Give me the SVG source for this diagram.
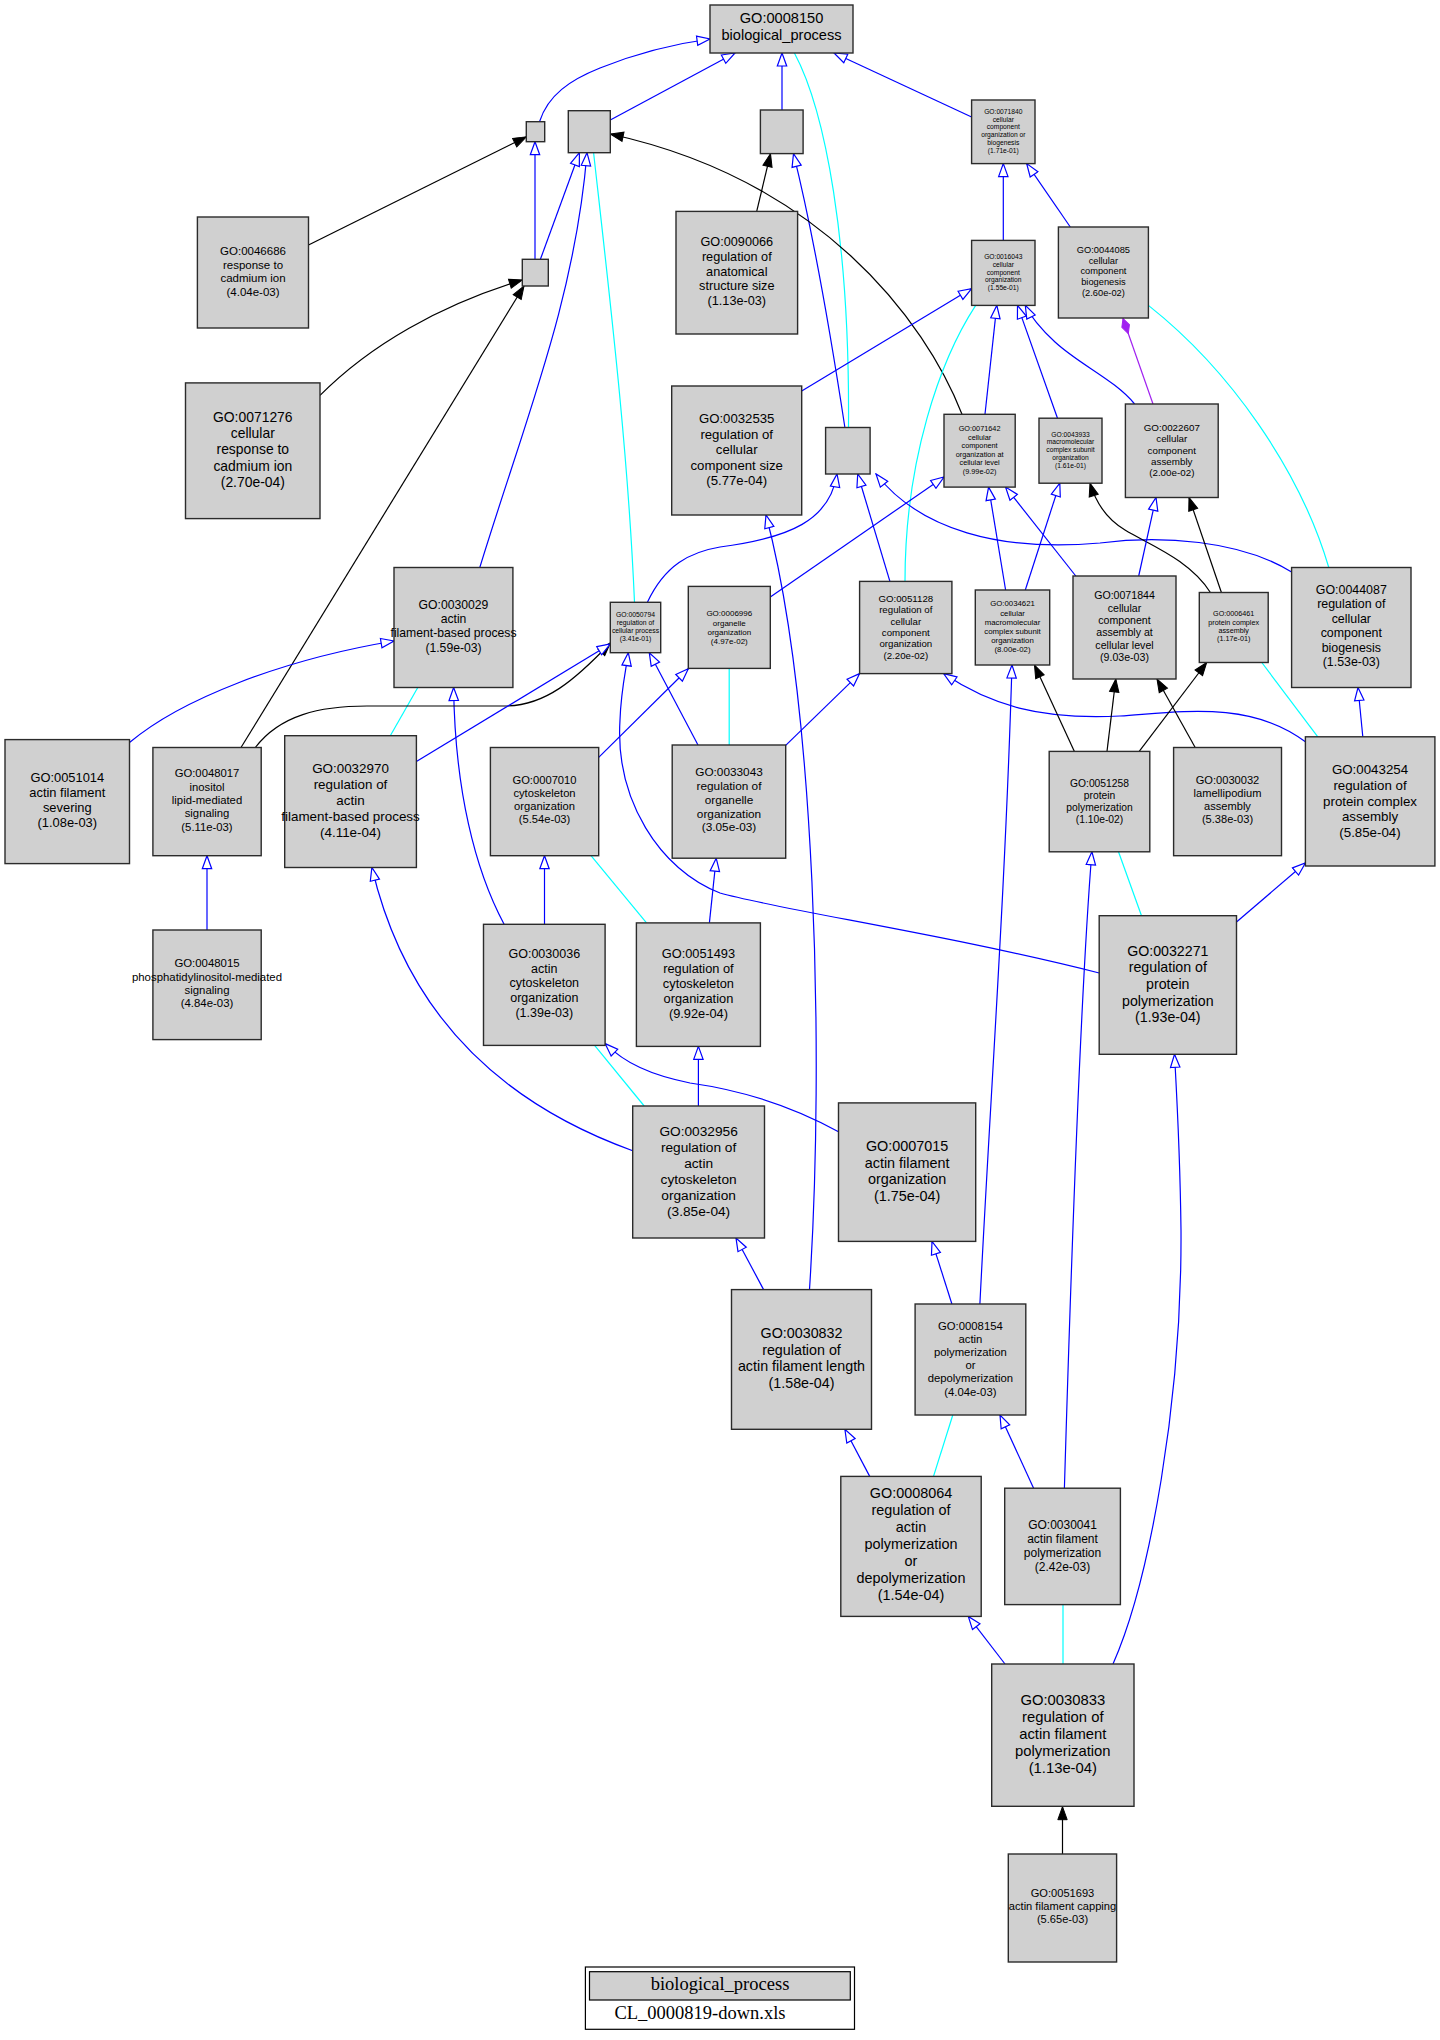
<svg xmlns="http://www.w3.org/2000/svg" width="1440" height="2040" viewBox="0 0 1440 2040">
<style>
.n rect{fill:#d0d0d0;stroke:#2b2b2b;stroke-width:1.4}
.n text{font-family:"Liberation Sans",Arial,sans-serif;text-anchor:middle;fill:#000}
.b{fill:none;stroke:#0000ff;stroke-width:1.2;marker-end:url(#ob)}
.c{fill:none;stroke:#00ffff;stroke-width:1.2}
.k{fill:none;stroke:#000;stroke-width:1.2;marker-end:url(#fb)}
.p{fill:none;stroke:#a020f0;stroke-width:1.2;marker-end:url(#pd)}
.lg{font-family:"Liberation Serif","Times New Roman",serif;font-size:18.5px;text-anchor:middle;fill:#000}
</style>
<defs>
<marker id="ob" viewBox="-1 -1 15 12" refX="13" refY="5" markerWidth="15" markerHeight="12" markerUnits="userSpaceOnUse" orient="auto"><path d="M0,0.3 L13,5 L0,9.7 z" fill="#fff" stroke="#0000ff" stroke-width="1.2"/></marker>
<marker id="fb" viewBox="-1 -1 15 12" refX="13" refY="5" markerWidth="15" markerHeight="12" markerUnits="userSpaceOnUse" orient="auto"><path d="M0,0.3 L13,5 L0,9.7 z" fill="#000" stroke="#000" stroke-width="1"/></marker>
<marker id="pd" viewBox="-1 -1 18 10" refX="16" refY="4" markerWidth="18" markerHeight="10" markerUnits="userSpaceOnUse" orient="auto"><path d="M0,4 L8,0 L16,4 L8,8 z" fill="#a020f0" stroke="#a020f0" stroke-width="1"/></marker>
</defs>
<rect x="0" y="0" width="1440" height="2040" fill="#fff"/>
<g id="edges">
<path class="b" d="M539.5,121.7 C548,95 570,80 600,68 C640,52 680,43 710,39"/>
<path class="b" d="M610.3,120 L735,53"/>
<path class="b" d="M782,110 L782,53"/>
<path class="c" d="M794.4,53 C825,110 850,240 848.5,427.5"/>
<path class="b" d="M971.6,117 L834,53"/>
<path class="b" d="M535,259.3 L535,141.7"/>
<path class="b" d="M540.4,259.3 L579.4,152.7"/>
<path class="b" d="M479.8,567.5 C525,420 575,300 587,152.7"/>
<path class="c" d="M593.6,152.7 C610,300 628,450 634.5,602.3"/>
<path class="k" d="M308.5,245 L526.3,136.8"/>
<path class="k" d="M320,395.4 C370,345 440,305 522.3,280"/>
<path class="k" d="M241,747.5 L524,286"/>
<path class="k" d="M756.7,211.4 L770.5,153.6"/>
<path class="b" d="M844.9,427.5 C830,330 810,220 793.5,153.6"/>
<path class="k" d="M962,414.3 C925,320 820,180 610.3,134"/>
<path class="b" d="M1003.3,240.4 L1003.3,163.6"/>
<path class="b" d="M1070.3,227 L1026.7,163.6"/>
<path class="b" d="M801.7,391 L971.6,288.6"/>
<path class="c" d="M975.7,305.4 C940,360 905,460 905,581.4"/>
<path class="b" d="M985,414.3 L996.8,305.4"/>
<path class="b" d="M1057.5,418.2 L1017.5,305.4"/>
<path class="b" d="M1134.6,404 C1115,380 1080,365 1055,342 C1040,328 1030,315 1025.3,305.4"/>
<path class="p" d="M1153,404 L1123,318.5"/>
<path class="c" d="M1148.4,305.4 C1230,370 1300,470 1328.8,567.5"/>
<path class="b" d="M647.4,602.3 C665,565 690,552 720,547 C790,538 830,520 837,474"/>
<path class="b" d="M889.9,581.4 L857.7,474"/>
<path class="b" d="M1291.6,572 C1240,540 1160,535 1100,543 C1000,552 920,530 876,474"/>
<path class="b" d="M809.5,1289.6 C825,1050 815,700 766,515"/>
<path class="b" d="M770.3,597 L944,477"/>
<path class="b" d="M1005.6,590 L988.6,487.1"/>
<path class="b" d="M1075.8,576 L1005.6,487.1"/>
<path class="b" d="M1025.3,590 L1059.8,483.2"/>
<path class="k" d="M1210.4,592.5 C1190,560 1150,545 1125,530 C1105,518 1095,500 1090,483.2"/>
<path class="b" d="M1138.7,576 L1156,497.5"/>
<path class="k" d="M1221.4,592.5 L1189,497.5"/>
<path class="b" d="M785.7,745.4 L859.6,673.6"/>
<path class="b" d="M1305.4,741.8 C1250,700 1180,712 1120,716 C1040,720 990,705 943.6,673.6"/>
<path class="b" d="M979.9,1304 C990,1100 1005,900 1012,665"/>
<path class="k" d="M1074.4,751.4 L1034.5,665"/>
<path class="k" d="M1107,751.4 L1115.8,679"/>
<path class="k" d="M1195.2,747.5 L1157,679"/>
<path class="k" d="M1139.2,751.4 L1206.7,662.5"/>
<path class="c" d="M1261.8,662.5 L1317.8,736.8"/>
<path class="b" d="M1362.8,736.8 L1358,687.5"/>
<path class="c" d="M1118.5,851.8 L1141.5,915.7"/>
<path class="b" d="M1236.5,922 L1305.4,863"/>
<path class="b" d="M1064.4,1488.2 C1070,1300 1080,1000 1091.9,851.8"/>
<path class="b" d="M1113,1664 C1150,1580 1182,1400 1181,1230 C1180,1150 1177,1100 1174.5,1054.3"/>
<path class="b" d="M1099.2,973 C950,935 780,910 720,893 C660,870 615,800 620,720 C621,690 626,670 628.3,652.7"/>
<path class="b" d="M698,745 L649.3,652.7"/>
<path class="b" d="M598.7,757.4 L688.3,668.7"/>
<path class="c" d="M729.2,668.7 L729.2,745"/>
<path class="b" d="M709.4,922.9 L716.2,858.2"/>
<path class="b" d="M544.5,924.3 L544.5,855.7"/>
<path class="c" d="M591,855.7 L646.5,922.9"/>
<path class="b" d="M504.1,924.3 C475,870 455,790 453.6,687.5"/>
<path class="c" d="M417.8,687.5 L390.3,735.7"/>
<path class="b" d="M129.5,742.5 C180,700 280,660 394,641"/>
<path class="k" d="M255.3,747.5 C280,715 320,706 367,706 L505,706 C545,706 575,680 610.3,643"/>
<path class="b" d="M416.4,761.4 L610.3,644"/>
<path class="b" d="M207,930 L207,855.7"/>
<path class="b" d="M632.7,1150.7 C520,1110 410,1030 371.9,867.5"/>
<path class="c" d="M594.6,1045.4 L644.2,1106"/>
<path class="b" d="M698.4,1106 L698.4,1046.4"/>
<path class="b" d="M838.5,1131.8 C790,1105 740,1090 690,1083 C650,1075 625,1063 605.1,1043.6"/>
<path class="b" d="M763.6,1289.6 L736,1238"/>
<path class="b" d="M951.9,1304 L932,1241.4"/>
<path class="b" d="M869.7,1476.4 L844.9,1429.3"/>
<path class="c" d="M952.8,1415 L933.5,1476.4"/>
<path class="b" d="M1033.6,1488.2 L1000,1415"/>
<path class="b" d="M1005,1664 L968.3,1616.4"/>
<path class="c" d="M1063,1604.6 L1063,1664"/>
<path class="k" d="M1062.5,1854 L1062.5,1806.7"/>
</g>
<g id="n0008150" class="n"><rect x="710" y="5" width="143" height="48"/><text x="781.5" y="23.2" font-size="14.6"><tspan x="781.5">GO:0008150</tspan><tspan x="781.5" dy="17.1">biological_process</tspan></text></g>
<g id="nA" class="n"><rect x="526.3" y="121.7" width="18.4" height="20"/></g>
<g id="nB" class="n"><rect x="568.3" y="110.7" width="42" height="42"/></g>
<g id="nC" class="n"><rect x="522.3" y="259.3" width="26" height="26.7"/></g>
<g id="nD" class="n"><rect x="760.4" y="110" width="42.7" height="43.6"/></g>
<g id="nE" class="n"><rect x="825.6" y="427.5" width="44.5" height="46.5"/></g>
<g id="n0071840" class="n"><rect x="971.6" y="100" width="63.4" height="63.6"/><text x="1003.3" y="113.8" font-size="6.7"><tspan x="1003.3">GO:0071840</tspan><tspan x="1003.3" dy="7.8">cellular</tspan><tspan x="1003.3" dy="7.8">component</tspan><tspan x="1003.3" dy="7.8">organization or</tspan><tspan x="1003.3" dy="7.8">biogenesis</tspan><tspan x="1003.3" dy="7.8">(1.71e-01)</tspan></text></g>
<g id="n0016043" class="n"><rect x="971.6" y="240.4" width="63.4" height="65"/><text x="1003.3" y="258.8" font-size="6.7"><tspan x="1003.3">GO:0016043</tspan><tspan x="1003.3" dy="7.88">cellular</tspan><tspan x="1003.3" dy="7.88">component</tspan><tspan x="1003.3" dy="7.88">organization</tspan><tspan x="1003.3" dy="7.88">(1.55e-01)</tspan></text></g>
<g id="n0044085" class="n"><rect x="1058.4" y="227" width="90" height="91"/><text x="1103.4" y="252.6" font-size="9.3"><tspan x="1103.4">GO:0044085</tspan><tspan x="1103.4" dy="10.9">cellular</tspan><tspan x="1103.4" dy="10.9">component</tspan><tspan x="1103.4" dy="10.9">biogenesis</tspan><tspan x="1103.4" dy="10.9">(2.60e-02)</tspan></text></g>
<g id="n0090066" class="n"><rect x="676" y="211.4" width="121.6" height="122.6"/><text x="736.8" y="246" font-size="12.7"><tspan x="736.8">GO:0090066</tspan><tspan x="736.8" dy="14.8">regulation of</tspan><tspan x="736.8" dy="14.8">anatomical</tspan><tspan x="736.8" dy="14.8">structure size</tspan><tspan x="736.8" dy="14.8">(1.13e-03)</tspan></text></g>
<g id="n0032535" class="n"><rect x="671.7" y="386" width="130" height="129"/><text x="736.7" y="423.4" font-size="13.2"><tspan x="736.7">GO:0032535</tspan><tspan x="736.7" dy="15.5">regulation of</tspan><tspan x="736.7" dy="15.5">cellular</tspan><tspan x="736.7" dy="15.5">component size</tspan><tspan x="736.7" dy="15.5">(5.77e-04)</tspan></text></g>
<g id="n0071642" class="n"><rect x="944" y="414.3" width="71.2" height="72.8"/><text x="979.6" y="431.2" font-size="7.3"><tspan x="979.6">GO:0071642</tspan><tspan x="979.6" dy="8.56">cellular</tspan><tspan x="979.6" dy="8.56">component</tspan><tspan x="979.6" dy="8.56">organization at</tspan><tspan x="979.6" dy="8.56">cellular level</tspan><tspan x="979.6" dy="8.56">(9.99e-02)</tspan></text></g>
<g id="n0043933" class="n"><rect x="1039" y="418.2" width="63" height="65"/><text x="1070.5" y="436.7" font-size="6.7"><tspan x="1070.5">GO:0043933</tspan><tspan x="1070.5" dy="7.78">macromolecular</tspan><tspan x="1070.5" dy="7.78">complex subunit</tspan><tspan x="1070.5" dy="7.78">organization</tspan><tspan x="1070.5" dy="7.78">(1.61e-01)</tspan></text></g>
<g id="n0022607" class="n"><rect x="1125.4" y="404" width="92.8" height="93.5"/><text x="1171.8" y="431" font-size="9.8"><tspan x="1171.8">GO:0022607</tspan><tspan x="1171.8" dy="11.35">cellular</tspan><tspan x="1171.8" dy="11.35">component</tspan><tspan x="1171.8" dy="11.35">assembly</tspan><tspan x="1171.8" dy="11.35">(2.00e-02)</tspan></text></g>
<g id="n0046686" class="n"><rect x="197.4" y="217" width="111.1" height="111"/><text x="253" y="255.1" font-size="11.5"><tspan x="253">GO:0046686</tspan><tspan x="253" dy="13.47">response to</tspan><tspan x="253" dy="13.47">cadmium ion</tspan><tspan x="253" dy="13.47">(4.04e-03)</tspan></text></g>
<g id="n0071276" class="n"><rect x="185.5" y="382.9" width="134.5" height="135.7"/><text x="252.8" y="421.8" font-size="13.9"><tspan x="252.8">GO:0071276</tspan><tspan x="252.8" dy="16.25">cellular</tspan><tspan x="252.8" dy="16.25">response to</tspan><tspan x="252.8" dy="16.25">cadmium ion</tspan><tspan x="252.8" dy="16.25">(2.70e-04)</tspan></text></g>
<g id="n0030029" class="n"><rect x="394" y="567.5" width="118.9" height="120"/><text x="453.5" y="608.7" font-size="12.2"><tspan x="453.5">GO:0030029</tspan><tspan x="453.5" dy="14.27">actin</tspan><tspan x="453.5" dy="14.27">filament-based process</tspan><tspan x="453.5" dy="14.27">(1.59e-03)</tspan></text></g>
<g id="n0050794" class="n"><rect x="610.3" y="602.3" width="50.4" height="50.4"/><text x="635.5" y="617" font-size="6.8"><tspan x="635.5">GO:0050794</tspan><tspan x="635.5" dy="8">regulation of</tspan><tspan x="635.5" dy="8">cellular process</tspan><tspan x="635.5" dy="8">(3.41e-01)</tspan></text></g>
<g id="n0051014" class="n"><rect x="5" y="739.6" width="124.5" height="124"/><text x="67.3" y="782.1" font-size="12.9"><tspan x="67.3">GO:0051014</tspan><tspan x="67.3" dy="15.13">actin filament</tspan><tspan x="67.3" dy="15.13">severing</tspan><tspan x="67.3" dy="15.13">(1.08e-03)</tspan></text></g>
<g id="n0048017" class="n"><rect x="152.9" y="747.5" width="108.3" height="108.2"/><text x="207" y="777.3" font-size="11.3"><tspan x="207">GO:0048017</tspan><tspan x="207" dy="13.3">inositol</tspan><tspan x="207" dy="13.3">lipid-mediated</tspan><tspan x="207" dy="13.3">signaling</tspan><tspan x="207" dy="13.3">(5.11e-03)</tspan></text></g>
<g id="n0032970" class="n"><rect x="284.7" y="735.7" width="131.7" height="131.8"/><text x="350.5" y="773.4" font-size="13.4"><tspan x="350.5">GO:0032970</tspan><tspan x="350.5" dy="15.8">regulation of</tspan><tspan x="350.5" dy="15.8">actin</tspan><tspan x="350.5" dy="15.8">filament-based process</tspan><tspan x="350.5" dy="15.8">(4.11e-04)</tspan></text></g>
<g id="n0007010" class="n"><rect x="490.4" y="747.5" width="108.3" height="108.2"/><text x="544.5" y="784" font-size="11.2"><tspan x="544.5">GO:0007010</tspan><tspan x="544.5" dy="13.1">cytoskeleton</tspan><tspan x="544.5" dy="13.1">organization</tspan><tspan x="544.5" dy="13.1">(5.54e-03)</tspan></text></g>
<g id="n0048015" class="n"><rect x="152.9" y="930" width="108.3" height="109.6"/><text x="207" y="967.3" font-size="11.4"><tspan x="207">GO:0048015</tspan><tspan x="207" dy="13.33">phosphatidylinositol-mediated</tspan><tspan x="207" dy="13.33">signaling</tspan><tspan x="207" dy="13.33">(4.84e-03)</tspan></text></g>
<g id="n0030036" class="n"><rect x="483.5" y="924.3" width="121.6" height="121.1"/><text x="544.3" y="958.1" font-size="12.5"><tspan x="544.3">GO:0030036</tspan><tspan x="544.3" dy="14.6">actin</tspan><tspan x="544.3" dy="14.6">cytoskeleton</tspan><tspan x="544.3" dy="14.6">organization</tspan><tspan x="544.3" dy="14.6">(1.39e-03)</tspan></text></g>
<g id="n0006996" class="n"><rect x="688.3" y="586.4" width="82" height="82"/><text x="729.3" y="616.2" font-size="8"><tspan x="729.3">GO:0006996</tspan><tspan x="729.3" dy="9.33">organelle</tspan><tspan x="729.3" dy="9.33">organization</tspan><tspan x="729.3" dy="9.33">(4.97e-02)</tspan></text></g>
<g id="n0051128" class="n"><rect x="859.6" y="581.4" width="92.3" height="92.2"/><text x="905.8" y="602.1" font-size="9.7"><tspan x="905.8">GO:0051128</tspan><tspan x="905.8" dy="11.28">regulation of</tspan><tspan x="905.8" dy="11.28">cellular</tspan><tspan x="905.8" dy="11.28">component</tspan><tspan x="905.8" dy="11.28">organization</tspan><tspan x="905.8" dy="11.28">(2.20e-02)</tspan></text></g>
<g id="n0034621" class="n"><rect x="975.3" y="590" width="74.4" height="75"/><text x="1012.5" y="606.4" font-size="7.8"><tspan x="1012.5">GO:0034621</tspan><tspan x="1012.5" dy="9.14">cellular</tspan><tspan x="1012.5" dy="9.14">macromolecular</tspan><tspan x="1012.5" dy="9.14">complex subunit</tspan><tspan x="1012.5" dy="9.14">organization</tspan><tspan x="1012.5" dy="9.14">(8.00e-02)</tspan></text></g>
<g id="n0071844" class="n"><rect x="1073" y="576" width="103" height="103"/><text x="1124.5" y="599.2" font-size="10.6"><tspan x="1124.5">GO:0071844</tspan><tspan x="1124.5" dy="12.34">cellular</tspan><tspan x="1124.5" dy="12.34">component</tspan><tspan x="1124.5" dy="12.34">assembly at</tspan><tspan x="1124.5" dy="12.34">cellular level</tspan><tspan x="1124.5" dy="12.34">(9.03e-03)</tspan></text></g>
<g id="n0006461" class="n"><rect x="1199.3" y="592.5" width="68.9" height="70"/><text x="1233.7" y="616.2" font-size="7.2"><tspan x="1233.7">GO:0006461</tspan><tspan x="1233.7" dy="8.43">protein complex</tspan><tspan x="1233.7" dy="8.43">assembly</tspan><tspan x="1233.7" dy="8.43">(1.17e-01)</tspan></text></g>
<g id="n0044087" class="n"><rect x="1291.6" y="567.5" width="119.4" height="120"/><text x="1351.3" y="593.8" font-size="12.4"><tspan x="1351.3">GO:0044087</tspan><tspan x="1351.3" dy="14.5">regulation of</tspan><tspan x="1351.3" dy="14.5">cellular</tspan><tspan x="1351.3" dy="14.5">component</tspan><tspan x="1351.3" dy="14.5">biogenesis</tspan><tspan x="1351.3" dy="14.5">(1.53e-03)</tspan></text></g>
<g id="n0033043" class="n"><rect x="672.2" y="745" width="113.5" height="113.2"/><text x="729" y="776.3" font-size="11.8"><tspan x="729">GO:0033043</tspan><tspan x="729" dy="13.75">regulation of</tspan><tspan x="729" dy="13.75">organelle</tspan><tspan x="729" dy="13.75">organization</tspan><tspan x="729" dy="13.75">(3.05e-03)</tspan></text></g>
<g id="n0051258" class="n"><rect x="1049.2" y="751.4" width="100.6" height="100.4"/><text x="1099.5" y="786.6" font-size="10.3"><tspan x="1099.5">GO:0051258</tspan><tspan x="1099.5" dy="12">protein</tspan><tspan x="1099.5" dy="12">polymerization</tspan><tspan x="1099.5" dy="12">(1.10e-02)</tspan></text></g>
<g id="n0030032" class="n"><rect x="1173.6" y="747.5" width="107.9" height="108.2"/><text x="1227.5" y="784.4" font-size="11.1"><tspan x="1227.5">GO:0030032</tspan><tspan x="1227.5" dy="12.97">lamellipodium</tspan><tspan x="1227.5" dy="12.97">assembly</tspan><tspan x="1227.5" dy="12.97">(5.38e-03)</tspan></text></g>
<g id="n0043254" class="n"><rect x="1305.4" y="736.8" width="129.5" height="129.2"/><text x="1370" y="774.4" font-size="13.3"><tspan x="1370">GO:0043254</tspan><tspan x="1370" dy="15.55">regulation of</tspan><tspan x="1370" dy="15.55">protein complex</tspan><tspan x="1370" dy="15.55">assembly</tspan><tspan x="1370" dy="15.55">(5.85e-04)</tspan></text></g>
<g id="n0032271" class="n"><rect x="1099.2" y="915.7" width="137.3" height="138.6"/><text x="1167.8" y="955.8" font-size="14.2"><tspan x="1167.8">GO:0032271</tspan><tspan x="1167.8" dy="16.6">regulation of</tspan><tspan x="1167.8" dy="16.6">protein</tspan><tspan x="1167.8" dy="16.6">polymerization</tspan><tspan x="1167.8" dy="16.6">(1.93e-04)</tspan></text></g>
<g id="n0051493" class="n"><rect x="636.4" y="922.9" width="124" height="123.5"/><text x="698.4" y="958.2" font-size="12.8"><tspan x="698.4">GO:0051493</tspan><tspan x="698.4" dy="15">regulation of</tspan><tspan x="698.4" dy="15">cytoskeleton</tspan><tspan x="698.4" dy="15">organization</tspan><tspan x="698.4" dy="15">(9.92e-04)</tspan></text></g>
<g id="n0032956" class="n"><rect x="632.7" y="1106" width="131.8" height="132"/><text x="698.6" y="1135.6" font-size="13.7"><tspan x="698.6">GO:0032956</tspan><tspan x="698.6" dy="16.06">regulation of</tspan><tspan x="698.6" dy="16.06">actin</tspan><tspan x="698.6" dy="16.06">cytoskeleton</tspan><tspan x="698.6" dy="16.06">organization</tspan><tspan x="698.6" dy="16.06">(3.85e-04)</tspan></text></g>
<g id="n0007015" class="n"><rect x="838.5" y="1102.9" width="137.2" height="138.5"/><text x="907.1" y="1150.9" font-size="14.4"><tspan x="907.1">GO:0007015</tspan><tspan x="907.1" dy="16.77">actin filament</tspan><tspan x="907.1" dy="16.77">organization</tspan><tspan x="907.1" dy="16.77">(1.75e-04)</tspan></text></g>
<g id="n0030832" class="n"><rect x="731.5" y="1289.6" width="140" height="139.7"/><text x="801.5" y="1338" font-size="14.3"><tspan x="801.5">GO:0030832</tspan><tspan x="801.5" dy="16.67">regulation of</tspan><tspan x="801.5" dy="16.67">actin filament length</tspan><tspan x="801.5" dy="16.67">(1.58e-04)</tspan></text></g>
<g id="n0008154" class="n"><rect x="915.1" y="1304" width="110.7" height="111"/><text x="970.4" y="1329.5" font-size="11.3"><tspan x="970.4">GO:0008154</tspan><tspan x="970.4" dy="13.2">actin</tspan><tspan x="970.4" dy="13.2">polymerization</tspan><tspan x="970.4" dy="13.2">or</tspan><tspan x="970.4" dy="13.2">depolymerization</tspan><tspan x="970.4" dy="13.2">(4.04e-03)</tspan></text></g>
<g id="n0008064" class="n"><rect x="840.8" y="1476.4" width="140.4" height="140"/><text x="911" y="1498.1" font-size="14.4"><tspan x="911">GO:0008064</tspan><tspan x="911" dy="16.9">regulation of</tspan><tspan x="911" dy="16.9">actin</tspan><tspan x="911" dy="16.9">polymerization</tspan><tspan x="911" dy="16.9">or</tspan><tspan x="911" dy="16.9">depolymerization</tspan><tspan x="911" dy="16.9">(1.54e-04)</tspan></text></g>
<g id="n0030041" class="n"><rect x="1004.7" y="1488.2" width="115.7" height="116.4"/><text x="1062.5" y="1528.6" font-size="12"><tspan x="1062.5">GO:0030041</tspan><tspan x="1062.5" dy="14.03">actin filament</tspan><tspan x="1062.5" dy="14.03">polymerization</tspan><tspan x="1062.5" dy="14.03">(2.42e-03)</tspan></text></g>
<g id="n0030833" class="n"><rect x="991.7" y="1664" width="142.3" height="142.3"/><text x="1062.8" y="1704.6" font-size="14.8"><tspan x="1062.8">GO:0030833</tspan><tspan x="1062.8" dy="17.2">regulation of</tspan><tspan x="1062.8" dy="17.2">actin filament</tspan><tspan x="1062.8" dy="17.2">polymerization</tspan><tspan x="1062.8" dy="17.2">(1.13e-04)</tspan></text></g>
<g id="n0051693" class="n"><rect x="1008.3" y="1854" width="108.3" height="108"/><text x="1062.5" y="1897.3" font-size="11.1"><tspan x="1062.5">GO:0051693</tspan><tspan x="1062.5" dy="13">actin filament capping</tspan><tspan x="1062.5" dy="13">(5.65e-03)</tspan></text></g>
<g id="legend">
<rect x="585.4" y="1967" width="269.1" height="62.3" fill="#fff" stroke="#000" stroke-width="1.2"/>
<rect x="589.5" y="1971.7" width="260.8" height="28.3" fill="#d0d0d0" stroke="#000" stroke-width="1.2"/>
<text class="lg" x="720" y="1990">biological_process</text>
<text class="lg" x="700" y="2018.5">CL_0000819-down.xls</text>
</g>
</svg>
